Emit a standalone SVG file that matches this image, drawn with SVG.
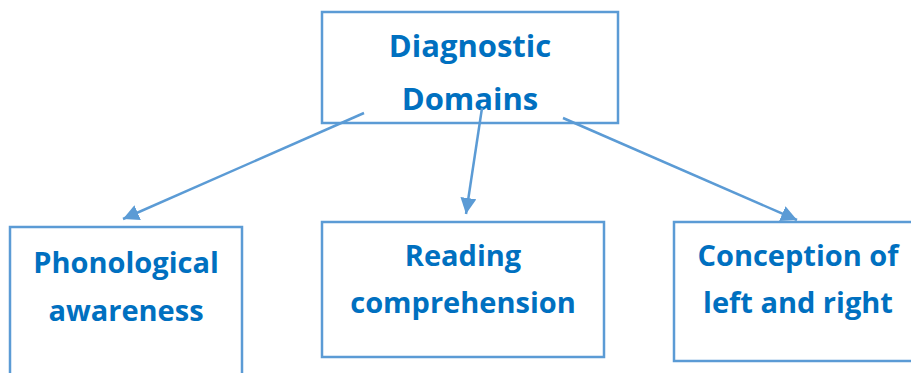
<svg xmlns="http://www.w3.org/2000/svg" width="911" height="373" viewBox="0 0 911 373">
<style>
.box{fill:#fff;stroke:#5B9BD5;stroke-width:2.5}
.lbl{font-family:"Open Sans","Liberation Sans",sans-serif;font-weight:bold;font-size:29px;fill:#0070C0;text-anchor:middle}
.title{font-size:31px}
.conn{stroke:#5B9BD5;stroke-width:2.5;fill:none;marker-end:url(#ah)}
</style>
<defs>
<marker id="ah" markerUnits="userSpaceOnUse" markerWidth="18" markerHeight="16" refX="16" refY="8" orient="auto">
<path d="M0,0 L16,8 L0,16 Z" fill="#5B9BD5"/>
</marker>
</defs>
<rect width="911" height="373" fill="#fff"/>
<g id="diagnostic-domains"><rect class="box" x="322" y="12" width="296" height="111"/>
<text class="lbl title" x="470" y="57">Diagnostic</text><text class="lbl title" x="470" y="110">Domains</text></g>
<g id="phonological"><rect class="box" x="10" y="227" width="232" height="160"/>
<text class="lbl" x="126" y="273">Phonological</text><text class="lbl" x="126" y="321">awareness</text></g>
<g id="reading"><rect class="box" x="322" y="222" width="282" height="135"/>
<text class="lbl" x="463" y="266">Reading</text><text class="lbl" x="463" y="313">comprehension</text></g>
<g id="conception"><rect class="box" x="674" y="222" width="250" height="139"/>
<text class="lbl" x="798" y="266">Conception of</text><text class="lbl" x="798" y="313">left and right</text></g>
<g id="connectors">
<line class="conn" x1="364" y1="113" x2="123" y2="219"/>
<line class="conn" x1="482" y1="108" x2="466" y2="214"/>
<line class="conn" x1="563" y1="118" x2="797" y2="220"/>
</g>
</svg>
